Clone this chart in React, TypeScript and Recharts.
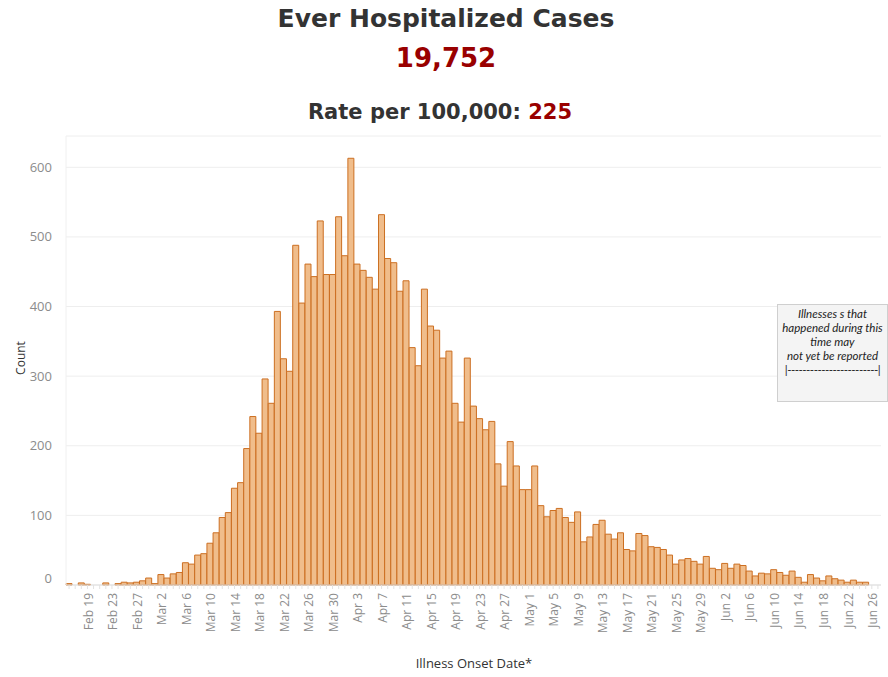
import { BarChart, Bar, XAxis, YAxis, CartesianGrid } from "recharts";

document.body.style.margin = "0";

const MONTHS = ["Jan", "Feb", "Mar", "Apr", "May", "Jun", "Jul"];

// one category per day, Feb 16 .. Jun 27 2020
const onsetDates: string[] = Array.from({ length: 133 }, (_, i) => {
  const d = new Date(2020, 1, 16 + i);
  return `${MONTHS[d.getMonth()]} ${d.getDate()}`;
});

const caseCounts: number[] = [
  2, 0, 3, 1, 0, 0, 3, 0, 2, 4, 3, 4, 6, 10, 2, 15, 10, 16, 18, 32,
  30, 43, 45, 60, 75, 97, 104, 139, 147, 196, 242, 218, 296, 261, 393, 325, 307, 488, 405, 461,
  443, 523, 446, 446, 529, 473, 613, 461, 452, 442, 425, 532, 469, 463, 422, 437, 341, 315, 425, 372,
  366, 326, 336, 261, 234, 326, 257, 239, 223, 235, 174, 142, 206, 171, 137, 137, 171, 114, 98, 107,
  110, 97, 90, 105, 62, 69, 87, 93, 73, 66, 75, 51, 49, 74, 71, 55, 54, 51, 43, 30,
  36, 38, 34, 30, 41, 24, 22, 31, 24, 30, 28, 20, 13, 17, 16, 22, 18, 14, 20, 11,
  4, 15, 10, 6, 13, 9, 7, 4, 7, 4, 4,
];

const dateTickLabels = [
  "Feb 19", "Feb 23", "Feb 27", "Mar 2", "Mar 6", "Mar 10", "Mar 14", "Mar 18", "Mar 22",
  "Mar 26", "Mar 30", "Apr 3", "Apr 7", "Apr 11", "Apr 15", "Apr 19", "Apr 23", "Apr 27",
  "May 1", "May 5", "May 9", "May 13", "May 17", "May 21", "May 25", "May 29", "Jun 2",
  "Jun 6", "Jun 10", "Jun 14", "Jun 18", "Jun 22", "Jun 26",
];

const countTicks = [0, 100, 200, 300, 400, 500, 600];

const data = onsetDates.map((date, i) => ({
  date,
  count: i < caseCounts.length ? caseCounts[i] : null,
}));

const FONT = "'Open Sans', 'DejaVu Sans', sans-serif";
const TITLE_FONT = "'DejaVu Sans', Verdana, sans-serif";

const DateTick = (props: any) => {
  const { x, y, payload } = props;
  if (!dateTickLabels.includes(payload.value)) return <g />;
  return (
    <text
      transform={`translate(${x + 1},${y + 1}) rotate(-90)`}
      textAnchor="end"
      dy="0.35em"
      fill="#8c8c8c"
      fontSize={12}
      fontFamily={FONT}
    >
      {payload.value}
    </text>
  );
};

const CountTick = (props: any) => {
  const { x, y, payload } = props;
  return (
    <text
      x={x}
      y={payload.value === 0 ? y - 7 : y}
      textAnchor="end"
      dy="0.35em"
      fill="#8c8c8c"
      fontSize={13}
      fontFamily={FONT}
    >
      {payload.value}
    </text>
  );
};

export default function App() {
  return (
    <div style={{ position: "relative", width: 888, height: 677, background: "#fff", overflow: "hidden" }}>
      <div style={{ position: "absolute", left: 0, width: 892, top: 4, textAlign: "center", fontFamily: TITLE_FONT, fontWeight: 700, fontSize: 25, color: "#333" }}>
        Ever Hospitalized Cases
      </div>
      <div style={{ position: "absolute", left: 0, width: 892, top: 43, textAlign: "center", fontFamily: TITLE_FONT, fontWeight: 700, fontSize: 26, color: "#990000" }}>
        19,752
      </div>
      <div style={{ position: "absolute", left: 0, width: 880, top: 100, textAlign: "center", fontFamily: TITLE_FONT, fontWeight: 700, fontSize: 21, color: "#333" }}>
        Rate per 100,000: <span style={{ color: "#990000" }}>225</span>
      </div>

      <BarChart
        width={888}
        height={677}
        data={data}
        barCategoryGap={0}
        margin={{ top: 136, right: 7, left: 0, bottom: 0 }}
      >
        <CartesianGrid vertical={false} stroke="#eeeeee" />
        <XAxis
          dataKey="date"
          interval={0}
          height={92}
          tick={<DateTick />}
          tickSize={4}
          tickMargin={3}
          tickLine={{ stroke: "#e2e2e2" }}
          axisLine={{ stroke: "#dddddd" }}
        />
        <YAxis
          width={66}
          domain={[0, 645]}
          ticks={countTicks}
          tickLine={false}
          tickMargin={8}
          axisLine={{ stroke: "#f0f0f0" }}
          tick={<CountTick />}
        />
        <Bar
          dataKey="count"
          fill="#f0bd8b"
          stroke="#cc6f22"
          strokeWidth={1}
          isAnimationActive={false}
        />
      </BarChart>

      <div style={{ position: "absolute", left: 20, top: 358, transform: "translate(-50%, -50%) rotate(-90deg)", fontFamily: FONT, fontSize: 12, color: "#333" }}>
        Count
      </div>
      <div style={{ position: "absolute", left: 0, width: 948, top: 654, textAlign: "center", fontFamily: FONT, fontSize: 13, color: "#333" }}>
        Illness Onset Date*
      </div>

      <div
        style={{
          position: "absolute",
          left: 777,
          top: 304,
          width: 111,
          height: 98,
          background: "#f4f4f4",
          border: "1px solid #cfcfcf",
          boxSizing: "border-box",
          fontFamily: "Lato, 'Liberation Sans', sans-serif",
          fontStyle: "italic",
          fontSize: 11.5,
          lineHeight: "14px",
          color: "#222",
          textAlign: "center",
          paddingTop: 2,
          whiteSpace: "nowrap",
        }}
      >
        <div>Illnesses s that</div>
        <div>happened during this</div>
        <div>time may</div>
        <div>not yet be reported</div>
        <div style={{ fontStyle: "normal", letterSpacing: -0.5 }}>|------------------------|</div>
      </div>
    </div>
  );
}
